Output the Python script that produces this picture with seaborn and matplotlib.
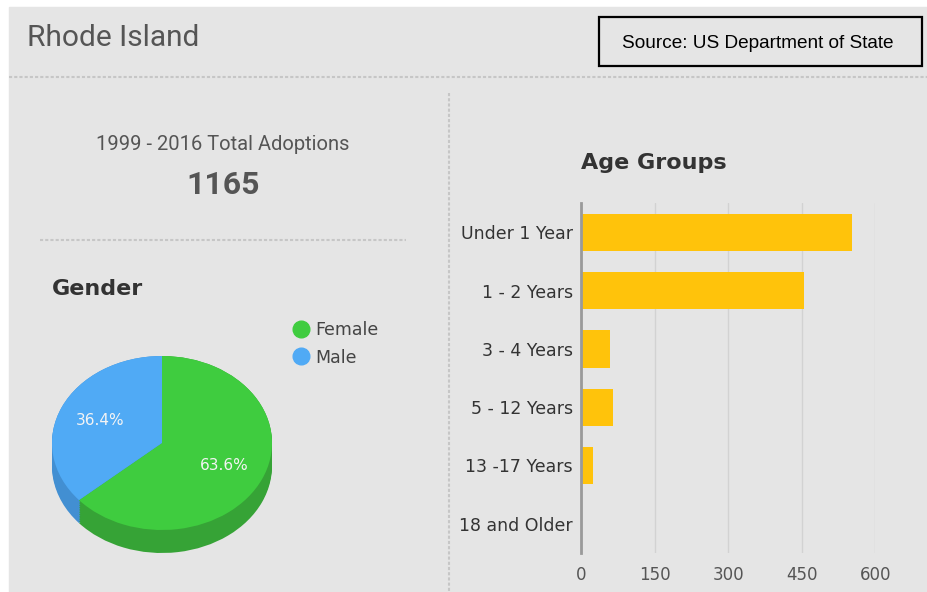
import numpy as np
import matplotlib
matplotlib.use('Agg')
import matplotlib.pyplot as plt
import seaborn as sns
from matplotlib.patches import Rectangle
from matplotlib.lines import Line2D

# Data
state_name = 'Rhode Island'
source_text = 'Source: US Department of State'
period_label = '1999 - 2016 Total Adoptions'
total_adoptions = 1165

gender_labels = ['Female', 'Male']
gender_pct = [63.6, 36.4]

age_groups = ['Under 1 Year', '1 - 2 Years', '3 - 4 Years', '5 - 12 Years', '13 -17 Years', '18 and Older']
age_counts = [552, 455, 60, 65, 24, 0]
age_ticks = [0, 150, 300, 450, 600]

# Colours
BG = '#e5e5e5'
GREEN = '#3fcc3f'
BLUE = '#50aaf5'
GREEN_SIDE = '#36a336'
BLUE_SIDE = '#428fd2'
BAR = '#ffc30b'
DOTS = '#c6c6c6'

W, H = 928, 592


def px(x, y):
    """Pixel position -> figure fraction."""
    return x / W, 1 - y / H


sns.set_theme(style='white')
plt.rcParams['font.family'] = ['DejaVu Sans']

fig = plt.figure(figsize=(W / 100, H / 100), dpi=100)
fig.patch.set_facecolor('white')
fig.patches.append(Rectangle(px(9, H), (W - 9) / W, (H - 7) / H,
                             transform=fig.transFigure, color=BG, zorder=-5))

# dotted separators
fig.add_artist(Line2D([9 / W, 1], [px(0, 77)[1]] * 2, color=DOTS, lw=1.5, ls=(0, (1.5, 1))))
fig.add_artist(Line2D([449 / W] * 2, [px(0, 93)[1], 0], color=DOTS, lw=1.5, ls=(0, (1.5, 1))))
fig.add_artist(Line2D([40 / W, 406 / W], [px(0, 240)[1]] * 2, color=DOTS, lw=1.5, ls=(0, (1.5, 1))))

# header
fig.text(*px(27, 38), state_name, fontsize=21.5, color='#555555', family='Roboto', va='center', ha='left')
fig.patches.append(Rectangle(px(599, 66), 323 / W, 49 / H, transform=fig.transFigure,
                             fill=False, edgecolor='black', lw=1.6, zorder=3))
fig.text(*px(758, 43), source_text, fontsize=13.7, color='black', family='Liberation Sans',
         va='center', ha='center')

# totals
fig.text(*px(223, 145), period_label, fontsize=14.5, color='#555555', family='Roboto',
         va='center', ha='center')
fig.text(*px(223, 185), str(total_adoptions), fontsize=23, color='#555555', family='Roboto',
         weight='bold', va='center', ha='center')

# gender pie (3d look: darker copies stacked underneath)
fig.text(*px(52, 289), 'Gender', fontsize=16, weight='bold', color='#333333', va='center', ha='left')
depth = 23 / 87
ax_pie = fig.add_axes([52 / W, 1 - 553 / H, 220 / W, 197 / H])
for k in np.linspace(depth, 0, 14):
    ax_pie.pie(gender_pct, colors=[GREEN_SIDE, BLUE_SIDE], startangle=90, counterclock=False,
               center=(0, -k), wedgeprops=dict(linewidth=0))
wedges, texts, autotexts = ax_pie.pie(
    gender_pct, colors=[GREEN, BLUE], startangle=90, counterclock=False,
    autopct='%.1f%%', pctdistance=0.62, wedgeprops=dict(linewidth=0),
    textprops=dict(color='#f4f4f4', fontsize=11))
ax_pie.set_aspect('auto')
ax_pie.set_xlim(-1, 1)
ax_pie.set_ylim(-1 - depth, 1)
ax_pie.axis('off')

handles = [Line2D([], [], marker='o', ls='', markersize=12, color=c) for c in (GREEN, BLUE)]
fig.legend(handles, gender_labels, loc='upper left', bbox_to_anchor=px(292, 321), frameon=False,
           fontsize=12.5, handletextpad=0.35, labelspacing=0.55, borderpad=0, borderaxespad=0,
           handlelength=1.0, labelcolor='#444444')

# age groups bar chart
fig.text(*px(581, 163), 'Age Groups', fontsize=16, weight='bold', color='#333333', va='center', ha='left')
ax_bar = fig.add_axes([581 / W, 1 - 553 / H, 294.5 / W, 350 / H])
sns.barplot(x=age_counts, y=age_groups, color=BAR, width=0.64, orient='h', ax=ax_bar,
            saturation=1, linewidth=0)
ax_bar.set_facecolor('none')
ax_bar.set_xlim(0, 600)
ax_bar.set_xticks(age_ticks)
ax_bar.set_xlabel('')
ax_bar.set_ylabel('')
ax_bar.grid(axis='x', color='#d2d2d2', lw=1)
ax_bar.set_axisbelow(True)
for s in ('top', 'right', 'bottom'):
    ax_bar.spines[s].set_visible(False)
ax_bar.spines['left'].set_color('#9a9a9a')
ax_bar.spines['left'].set_linewidth(2)
ax_bar.spines['left'].set_zorder(5)
ax_bar.tick_params(axis='y', length=0, pad=6, labelsize=12.5, labelcolor='#333333')
ax_bar.tick_params(axis='x', length=0, pad=9, labelsize=12, labelcolor='#555555')

fig.savefig('out.png', dpi=100, facecolor=fig.get_facecolor())
